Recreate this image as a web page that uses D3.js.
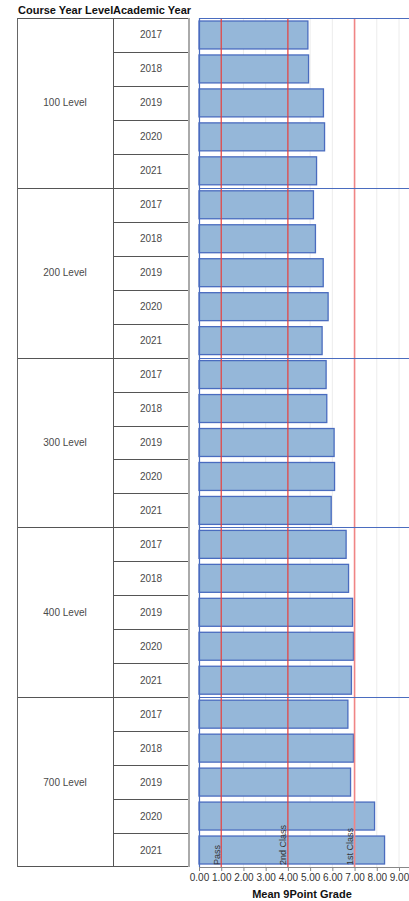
<!DOCTYPE html>
<html>
<head>
<meta charset="utf-8">
<script src="https://cdn.jsdelivr.net/npm/d3@7"></script>
<style>
  html, body { margin: 0; padding: 0; background: #fff; }
  svg { display: block; font-family: "Liberation Sans", Arial, sans-serif; }
</style>
</head>
<body>
<svg id="chart" width="409" height="901"></svg>
<script>
// ---- data ----
const levels = ["100 Level", "200 Level", "300 Level", "400 Level", "700 Level"];
const years = ["2017", "2018", "2019", "2020", "2021"];
const values100 = [4.90, 4.93, 5.60, 5.65, 5.29];
const values200 = [5.15, 5.24, 5.59, 5.81, 5.54];
const values300 = [5.72, 5.75, 6.08, 6.10, 5.95];
const values400 = [6.62, 6.73, 6.91, 6.95, 6.86];
const values700 = [6.70, 6.95, 6.82, 7.90, 8.35];
const tickValues = [0, 1, 2, 3, 4, 5, 6, 7, 8, 9];
const refValues = [1, 4, 7];
const refLabels = ["Pass", "2nd Class", "1st Class"];
const xTitle = "Mean 9Point Grade";
const headerLevel = "Course Year Level";
const headerYear = "Academic Year";

(function () {
const seriesByLevel = [values100, values200, values300, values400, values700];
const rows = [];
levels.forEach((lv, i) => years.forEach((yr, j) => rows.push({ level: lv, year: yr, key: lv + "|" + yr, value: seriesByLevel[i][j] })));

// ---- layout ----
const svg = d3.select("#chart");
const yTop = 18, yBottom = 867;
const plotLeft = 199, plotRight = 409;
const tabLeft = 17, tabMid = 113, tabRight = 189;

const x = d3.scaleLinear().domain([0, 9.45]).range([plotLeft, plotRight]);
const rowScale = d3.scaleBand().domain(rows.map(d => d.key)).range([yTop, yBottom]).padding(0);
const levelScale = d3.scaleBand().domain(levels).range([yTop, yBottom]).padding(0);
const rowH = rowScale.bandwidth();
const barPad = 3;

// gridlines
svg.append("g").selectAll("line").data(tickValues.filter(v => v > 0)).join("line")
  .attr("x1", d => x(d)).attr("x2", d => x(d))
  .attr("y1", yTop).attr("y2", yBottom)
  .attr("stroke", "#ececec").attr("stroke-width", 1);

// bars
svg.append("g").selectAll("rect").data(rows).join("rect")
  .attr("x", x(0))
  .attr("y", d => rowScale(d.key) + barPad)
  .attr("width", d => x(d.value) - x(0))
  .attr("height", rowH - 2 * barPad)
  .attr("fill", "#95b7d9")
  .attr("stroke", "#4a6cbf")
  .attr("stroke-width", 1.3);

// reference lines
const refColors = ["#e8403c", "#e8403c", "#f08585"];
svg.append("g").selectAll("line").data(refValues).join("line")
  .attr("x1", d => x(d)).attr("x2", d => x(d))
  .attr("y1", yTop).attr("y2", yBottom)
  .attr("stroke", (d, i) => refColors[i]).attr("stroke-width", (d, i) => i === 2 ? 1.6 : 1.2);

svg.append("g").selectAll("text").data(refValues).join("text")
  .attr("transform", d => `translate(${x(d) - 1.5},${yBottom - 2}) rotate(-90)`)
  .attr("font-size", 9)
  .attr("fill", "#333")
  .text((d, i) => refLabels[i]);

// group separators & plot frame
svg.append("g").selectAll("line").data(levels).join("line")
  .attr("x1", plotLeft).attr("x2", plotRight)
  .attr("y1", d => Math.round(levelScale(d)) + 0.5).attr("y2", d => Math.round(levelScale(d)) + 0.5)
  .attr("stroke", "#4a6cbf").attr("stroke-width", 1.2);
svg.append("line")
  .attr("x1", plotLeft + 0.5).attr("x2", plotLeft + 0.5).attr("y1", yTop).attr("y2", yBottom)
  .attr("stroke", "#4a6cbf").attr("stroke-width", 1.2);

// x axis
const xAxis = d3.axisBottom(x).tickValues(tickValues).tickFormat(d3.format(".2f")).tickSize(4).tickPadding(3);
const ax = svg.append("g").attr("transform", `translate(0,${yBottom})`).call(xAxis);
ax.select(".domain").attr("stroke", "#888").attr("d", `M${plotLeft},0.5H${plotRight}`);
ax.selectAll(".tick line").attr("stroke", "#888");
ax.selectAll(".tick text").attr("font-size", 10).attr("fill", "#333").attr("font-family", "Liberation Sans, Arial, sans-serif");

svg.append("text")
  .attr("x", 302).attr("y", 898)
  .attr("text-anchor", "middle")
  .attr("font-size", 11).attr("font-weight", "bold").attr("fill", "#111")
  .text(xTitle);

// ---- table ----
const tab = svg.append("g");
tab.selectAll("line.yr").data(rows).join("line").attr("class", "yr")
  .attr("x1", tabMid).attr("x2", tabRight)
  .attr("y1", d => Math.round(rowScale(d.key)) + 0.5).attr("y2", d => Math.round(rowScale(d.key)) + 0.5)
  .attr("stroke", "#555");
tab.selectAll("line.lv").data(levels).join("line").attr("class", "lv")
  .attr("x1", tabLeft).attr("x2", tabRight)
  .attr("y1", d => Math.round(levelScale(d)) + 0.5).attr("y2", d => Math.round(levelScale(d)) + 0.5)
  .attr("stroke", "#555");
tab.append("line").attr("x1", tabLeft).attr("x2", tabRight).attr("y1", yBottom - 0.5).attr("y2", yBottom - 0.5).attr("stroke", "#555");
tab.append("line").attr("x1", tabLeft + 0.5).attr("x2", tabLeft + 0.5).attr("y1", yTop).attr("y2", yBottom).attr("stroke", "#666");
tab.append("line").attr("x1", tabMid + 0.5).attr("x2", tabMid + 0.5).attr("y1", yTop).attr("y2", yBottom).attr("stroke", "#555");
tab.append("line").attr("x1", tabRight).attr("x2", tabRight).attr("y1", yTop).attr("y2", yBottom).attr("stroke", "#aaa").attr("stroke-width", 2);

tab.selectAll("text.yr").data(rows).join("text").attr("class", "yr")
  .attr("x", (tabMid + tabRight) / 2)
  .attr("y", d => rowScale(d.key) + rowH / 2)
  .attr("dy", "0.35em").attr("text-anchor", "middle")
  .attr("font-size", 10).attr("fill", "#4a4a4a")
  .text(d => d.year);

tab.selectAll("text.lv").data(levels).join("text").attr("class", "lv")
  .attr("x", (tabLeft + tabMid) / 2)
  .attr("y", d => levelScale(d) + levelScale.bandwidth() / 2)
  .attr("dy", "0.35em").attr("text-anchor", "middle")
  .attr("font-size", 10).attr("fill", "#4a4a4a")
  .text(d => d);

svg.append("text").attr("x", 18).attr("y", 14)
  .attr("font-size", 11).attr("font-weight", "bold").attr("fill", "#111")
  .text(headerLevel);
svg.append("text").attr("x", 113).attr("y", 14)
  .attr("font-size", 11).attr("font-weight", "bold").attr("fill", "#111")
  .text(headerYear);
})();
</script>
</body>
</html>
